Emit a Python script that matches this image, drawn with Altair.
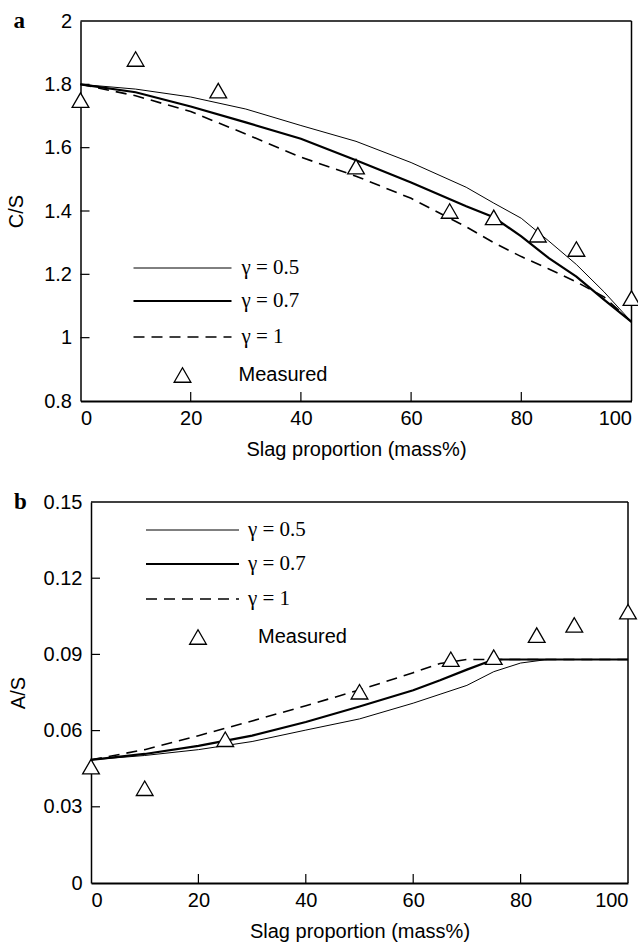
import altair as alt
import pandas as pd

# ---------------- data ----------------
# Panel a : C/S
x_a = [0, 10, 20, 30, 40, 50, 60, 70, 75, 80, 85, 90, 95, 100]
g05_a = [1.80, 1.785, 1.76, 1.722, 1.67, 1.62, 1.553, 1.475, 1.425, 1.377, 1.305, 1.231, 1.145, 1.05]
g07_a = [1.80, 1.775, 1.73, 1.68, 1.628, 1.56, 1.49, 1.415, 1.38, 1.32, 1.251, 1.193, 1.12, 1.05]
g10_a = [1.80, 1.764, 1.714, 1.643, 1.57, 1.51, 1.44, 1.35, 1.30, 1.256, 1.217, 1.176, 1.129, 1.05]
meas_x_a = [0, 10, 25, 50, 67, 75, 83, 90, 100]
meas_y_a = [1.75, 1.88, 1.78, 1.54, 1.40, 1.38, 1.325, 1.28, 1.125]

# Panel b : A/S
x_b = [0, 10, 20, 30, 40, 50, 60, 65, 70, 75, 80, 85, 90, 100]
g05_b = [0.0485, 0.0502, 0.0525, 0.0557, 0.0602, 0.0646, 0.0708, 0.0743, 0.0778, 0.0832, 0.0866, 0.088, 0.088, 0.088]
g07_b = [0.0485, 0.0508, 0.054, 0.058, 0.0634, 0.0695, 0.0759, 0.0798, 0.084, 0.088, 0.088, 0.088, 0.088, 0.088]
g10_b = [0.0485, 0.0525, 0.058, 0.0638, 0.0698, 0.076, 0.0828, 0.0864, 0.088, 0.088, 0.088, 0.088, 0.088, 0.088]
meas_x_b = [0, 10, 25, 50, 67, 75, 83, 90, 100]
meas_y_b = [0.0458, 0.0373, 0.0566, 0.0753, 0.0881, 0.0889, 0.0976, 0.1016, 0.1068]

x_ticks = [0, 20, 40, 60, 80, 100]
y_ticks_a = [0.8, 1, 1.2, 1.4, 1.6, 1.8, 2]
y_ticks_b = [0, 0.03, 0.06, 0.09, 0.12, 0.15]

series_names = ["γ = 0.5", "γ = 0.7", "γ = 1"]

SANS = "Liberation Sans"
SERIF = "Liberation Serif"
FS = 20
TICK = 9

STYLES = [
    dict(strokeWidth=1.0),
    dict(strokeWidth=2.2),
    dict(strokeWidth=1.6, strokeDash=[11, 7]),
]

one = alt.Data(values=[{}])


def panel(label, xs, series, mx, my, ydom, yticks, ytitle, W, H, off, leg, label_dx, ytp):
    # the plot frame starts `off` pixels to the right of the group origin
    xscale = alt.Scale(domain=[0, 100], nice=False, zero=False, range=[off, W])
    yscale = alt.Scale(domain=ydom, nice=False, zero=False)
    xaxis = alt.Axis(values=x_ticks, ticks=False, grid=False, format="~r",
                     labelPadding=7, titlePadding=11, domainWidth=2)
    yaxis = alt.Axis(values=yticks, ticks=False, grid=False, format="~r",
                     labelPadding=9, titlePadding=ytp, domainWidth=1.5, offset=-off)
    xtitle = "Slag proportion (mass%)"

    def X(f):
        return alt.X(f, scale=xscale, axis=xaxis, title=xtitle)

    def Y(f):
        return alt.Y(f, scale=yscale, axis=yaxis, title=ytitle)

    layers = []
    # frame: top and right border
    layers.append(alt.Chart(one).mark_rule(color="black", strokeWidth=1.5).encode(
        x=alt.value(off), x2=alt.value(W), y=alt.value(0)))
    layers.append(alt.Chart(one).mark_rule(color="black", strokeWidth=1.5).encode(
        x=alt.value(W), y=alt.value(0), y2=alt.value(H)))
    # curves
    for i, (name, ys) in enumerate(zip(series_names, series)):
        df = pd.DataFrame({"x": xs, "y": ys})
        layers.append(alt.Chart(df).mark_line(color="black", **STYLES[i]).encode(
            x=X("x:Q"), y=Y("y:Q")))
    # inward ticks
    xt = pd.DataFrame({"x": x_ticks[1:-1]})
    layers.append(alt.Chart(xt).mark_rule(color="black", strokeWidth=1.2).encode(
        x=X("x:Q"), y=alt.value(H), y2=alt.value(H - TICK)))
    yt = pd.DataFrame({"y": yticks[1:-1]})
    layers.append(alt.Chart(yt).mark_rule(color="black", strokeWidth=1.2).encode(
        y=Y("y:Q"), x=alt.value(off), x2=alt.value(off + TICK)))
    # measured
    mdf = pd.DataFrame({"x": mx, "y": my})
    layers.append(alt.Chart(mdf).mark_point(
        shape="triangle-up", size=280, filled=True, fill="white", stroke="black",
        strokeWidth=1.3, opacity=1).encode(x=X("x:Q"), y=Y("y:Q")))
    # legend
    lx1, lx2, tx, rows, trix, mtx = leg
    for i, name in enumerate(series_names):
        layers.append(alt.Chart(one).mark_rule(color="black", **STYLES[i]).encode(
            x=alt.value(off + lx1), x2=alt.value(off + lx2), y=alt.value(rows[i])))
        layers.append(alt.Chart(one).mark_text(
            text=name, font=SERIF, fontSize=21, align="left", baseline="middle",
            color="black").encode(x=alt.value(off + tx), y=alt.value(rows[i])))
    layers.append(alt.Chart(one).mark_point(
        shape="triangle-up", size=280, filled=True, fill="white", stroke="black",
        strokeWidth=1.3, opacity=1).encode(x=alt.value(off + trix), y=alt.value(rows[3])))
    layers.append(alt.Chart(one).mark_text(
        text="Measured", font=SANS, fontSize=FS, align="left", baseline="middle",
        color="black").encode(x=alt.value(off + mtx), y=alt.value(rows[3])))
    # panel label
    layers.append(alt.Chart(one).mark_text(
        text=label, font=SERIF, fontSize=23, fontWeight="bold", align="left",
        baseline="alphabetic", color="black").encode(x=alt.value(off + label_dx), y=alt.value(7)))
    return alt.layer(*layers).properties(width=W, height=H)


pa = panel("a", x_a, [g05_a, g07_a, g10_a], meas_x_a, meas_y_a, [0.8, 2], y_ticks_a, "C/S",
           551, 380, 0, (53, 151, 161, [247, 280, 316, 354], 102, 158), -67, 17)
pb = panel("b", x_b, [g05_b, g07_b, g10_b], meas_x_b, meas_y_b, [0, 0.15], y_ticks_b, "A/S",
           547.5, 381, 10.5, (55, 148, 157, [28, 62, 97, 135], 107, 167), -77, 14.2)

chart = alt.vconcat(pa, pb, spacing=30).properties(
    padding={"left": 5.5, "top": 9, "right": -6, "bottom": 0},
    background="white",
).configure_view(stroke="transparent").configure_axis(
    labelFont=SANS, titleFont=SANS, labelFontSize=FS, titleFontSize=FS,
    labelColor="black", titleColor="black", domainColor="black",
    titleFontWeight="normal",
)

chart.save("out.html", embed_options={"renderer": "svg", "actions": False})
